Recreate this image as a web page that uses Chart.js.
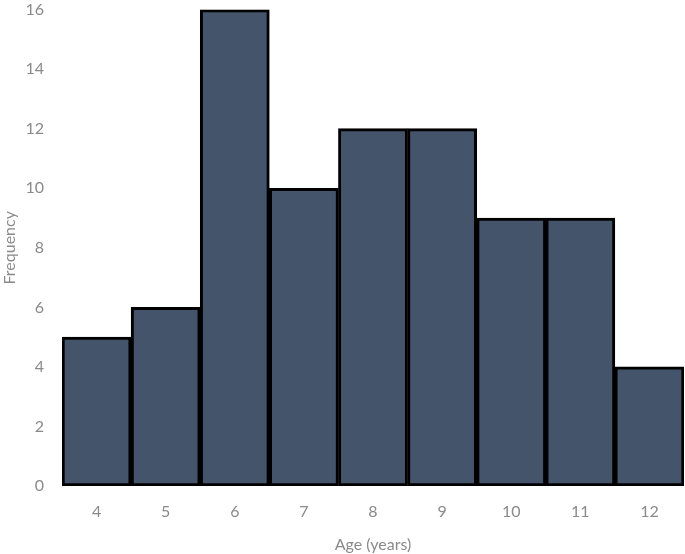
<!DOCTYPE html>
<html>
<head>
<meta charset="utf-8">
<script src="https://cdn.jsdelivr.net/npm/chart.js@4"></script>
<style>
  html, body { margin: 0; padding: 0; background: #fff; }
  #wrap { width: 685px; height: 554px; overflow: hidden; }
  #inner { width: 685px; height: 564px; margin-top: -10px; }
</style>
</head>
<body>
<div id="wrap"><div id="inner"><canvas id="chart"></canvas></div></div>
<script>
// ages (x categories) and how many in each
const AGES = ['4', '5', '6', '7', '8', '9', '10', '11', '12'];
const FREQ = [5, 6, 16, 10, 12, 12, 9, 9, 4];
const Y_MAX = 16;
const Y_STEP = 2;

const tickFont = { family: "Lato, 'Open Sans', sans-serif", size: 16 };
const grey = '#8a8a8a';

new Chart(document.getElementById('chart'), {
  type: 'bar',
  data: {
    labels: AGES,
    datasets: [{
      data: FREQ,
      backgroundColor: '#44546a',
      borderColor: '#000',
      borderWidth: 3,
      borderSkipped: false,
      categoryPercentage: 1,
      barPercentage: 1
    }]
  },
  options: {
    responsive: true,
    maintainAspectRatio: false,
    animation: false,
    layout: { padding: { top: 0, right: 1, bottom: 0, left: 0 } },
    plugins: { legend: { display: false }, tooltip: { enabled: false } },
    scales: {
      x: {
        grid: { display: false },
        border: { display: false },
        ticks: { color: grey, font: tickFont, padding: 8 },
        title: { display: true, text: 'Age (years)', color: grey, font: tickFont, padding: { top: 4, bottom: 0 } },
        afterFit: (s) => { s.height = 68; }
      },
      y: {
        min: 0,
        max: Y_MAX,
        grid: { display: false },
        border: { display: false },
        ticks: { stepSize: Y_STEP, color: grey, font: tickFont, padding: 10 },
        title: { display: true, text: 'Frequency', color: grey, font: tickFont, padding: { top: 0, bottom: 0 } },
        afterFit: (s) => { s.width = 62; }
      }
    }
  }
});
</script>
</body>
</html>
